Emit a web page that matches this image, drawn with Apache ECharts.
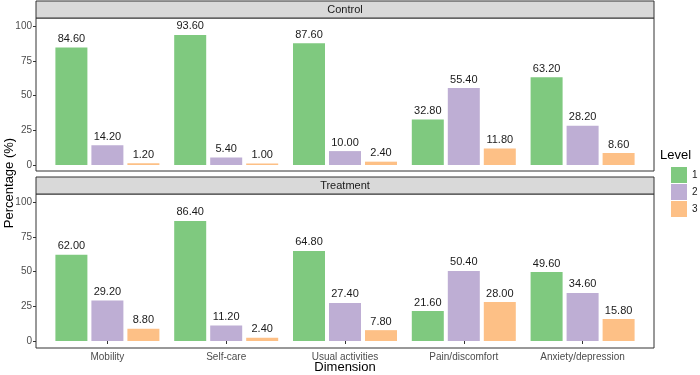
<!DOCTYPE html>
<html>
<head>
<meta charset="utf-8">
<script src="https://cdn.jsdelivr.net/npm/echarts@6/dist/echarts.min.js"></script>
<style>
  html, body { margin: 0; padding: 0; background: #fff; }
  #main { width: 700px; height: 375px; }
</style>
</head>
<body>
<div id="main"></div>
<script>
// categories and values
var dimensions = ['Mobility', 'Self-care', 'Usual activities', 'Pain/discomfort', 'Anxiety/depression'];
var levels = ['1', '2', '3'];
var levelColors = ['#7fc97f', '#beaed4', '#fdc086'];
var yTicks = [0, 25, 50, 75, 100];

var control1 = [84.6, 93.6, 87.6, 32.8, 63.2];
var control2 = [14.2, 5.4, 10.0, 55.4, 28.2];
var control3 = [1.2, 1.0, 2.4, 11.8, 8.6];

var treatment1 = [62.0, 86.4, 64.8, 21.6, 49.6];
var treatment2 = [29.2, 11.2, 27.4, 50.4, 34.6];
var treatment3 = [8.8, 2.4, 7.8, 28.0, 15.8];

var panels = [
    { name: 'Control', data: [control1, control2, control3] },
    { name: 'Treatment', data: [treatment1, treatment2, treatment3] }
];

var font = 'Liberation Sans, Arial, sans-serif';
// panel geometry
var frameLeft = 36, frameRight = 46;
var frames = [ { top: 18, height: 153 }, { top: 194, height: 154 } ];
var dataTops = [26, 202];
var dataH = 139;
var inset = 12;

var grids = [], xAxes = [], yAxes = [], series = [], graphics = [];

panels.forEach(function (p, pi) {
    // frame grid (border)
    grids.push({
        left: frameLeft, right: frameRight, top: frames[pi].top, height: frames[pi].height,
        show: true, borderColor: '#333', borderWidth: 1, backgroundColor: '#fff'
    });
    xAxes.push({ gridIndex: grids.length - 1, type: 'value', show: false });
    yAxes.push({ gridIndex: grids.length - 1, type: 'value', show: false });
});

panels.forEach(function (p, pi) {
    var gi = grids.length;
    grids.push({
        left: frameLeft + inset, right: frameRight + inset, top: dataTops[pi], height: dataH
    });
    var bottom = pi === panels.length - 1;
    xAxes.push({
        gridIndex: gi,
        type: 'category',
        data: dimensions,
        offset: frames[pi].top + frames[pi].height - dataTops[pi] - dataH,
        axisLine: { show: false },
        axisTick: { show: bottom, alignWithLabel: true, length: 3, lineStyle: { color: '#333' } },
        axisLabel: { show: bottom, color: '#4d4d4d', fontSize: 10, fontFamily: font, margin: 4 },
        splitLine: { show: false }
    });
    yAxes.push({
        gridIndex: gi,
        type: 'value',
        min: 0, max: 100, interval: 25,
        offset: inset,
        axisLine: { show: false },
        axisTick: { show: true, length: 3, lineStyle: { color: '#333' } },
        axisLabel: { color: '#4d4d4d', fontSize: 10, fontFamily: font, margin: 4 },
        splitLine: { show: false }
    });
    p.data.forEach(function (vals, li) {
        series.push({
            name: levels[li],
            type: 'bar',
            xAxisIndex: gi,
            yAxisIndex: gi,
            data: vals,
            barWidth: 32,
            barGap: '12.5%',
            itemStyle: { color: levelColors[li] },
            label: {
                show: true, position: 'top', distance: 3,
                color: '#1a1a1a', fontSize: 11, fontFamily: font,
                formatter: function (d) { return d.value.toFixed(2); }
            }
        });
    });

    // strip
    graphics.push({
        type: 'rect',
        shape: { x: frameLeft, y: frames[pi].top - 17, width: 700 - frameLeft - frameRight, height: 17 },
        style: { fill: '#d9d9d9', stroke: '#333', lineWidth: 1 }
    });
    graphics.push({
        type: 'text',
        x: frameLeft + (700 - frameLeft - frameRight) / 2,
        y: frames[pi].top - 8.5,
        style: { text: p.name, fill: '#1a1a1a', font: '11px ' + font, align: 'center', verticalAlign: 'middle' }
    });
});

graphics.push({
    type: 'text', x: 345, y: 367,
    style: { text: 'Dimension', fill: '#000', font: '13px ' + font, align: 'center', verticalAlign: 'middle' }
});
graphics.push({
    type: 'text', x: 9, y: 183, rotation: Math.PI / 2,
    style: { text: 'Percentage (%)', fill: '#000', font: '13px ' + font, align: 'center', verticalAlign: 'middle' }
});
graphics.push({
    type: 'text', x: 660, y: 155,
    style: { text: 'Level', fill: '#000', font: '13px ' + font, align: 'left', verticalAlign: 'middle' }
});

var option = {
    animation: false,
    grid: grids,
    xAxis: xAxes,
    yAxis: yAxes,
    legend: {
        data: levels,
        orient: 'vertical',
        left: 671, top: 167,
        itemWidth: 16, itemHeight: 16, itemGap: 1,
        icon: 'rect',
        textStyle: { color: '#1a1a1a', fontSize: 10, fontFamily: font, padding: [0, 0, 0, 0] },
        padding: 0
    },
    series: series,
    graphic: graphics
};

var myChart = echarts.init(document.getElementById('main'));
myChart.setOption(option);
</script>
</body>
</html>
